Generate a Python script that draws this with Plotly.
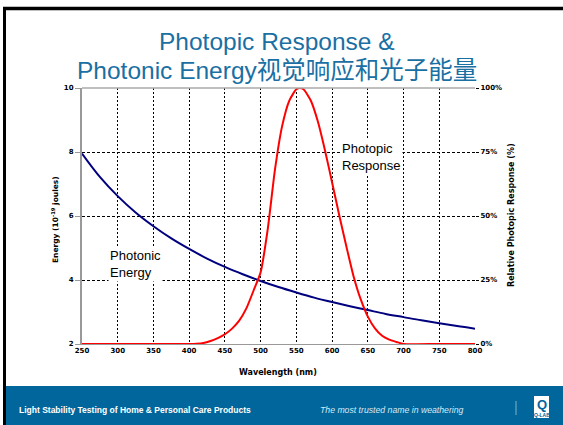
import plotly.graph_objects as go

# ---- data ----
energy_wl = [250, 275, 300, 325, 350, 375, 400, 425, 450, 475, 500, 525, 550, 575, 600, 625, 650, 675, 700, 725, 750, 775, 800]
energy_val = [7.95, 7.22, 6.62, 6.11, 5.68, 5.30, 4.97, 4.67, 4.41, 4.18, 3.97, 3.78, 3.61, 3.45, 3.31, 3.18, 3.06, 2.94, 2.84, 2.74, 2.65, 2.56, 2.48]

photopic_wl = [250, 300, 350, 400, 410, 420, 430, 440, 450, 460, 470, 480, 490, 500, 510, 520, 530, 540, 550, 555, 560, 570, 580, 590, 600, 610, 620, 630, 640, 650, 660, 670, 680, 690, 700, 750, 800]
photopic_pct = [0, 0, 0, 0, 0.1, 0.4, 1.2, 2.3, 3.8, 6.0, 9.1, 13.9, 20.8, 28.0, 45.0, 68.0, 85.0, 95.0, 99.5, 100, 99.5, 95.2, 87.0, 75.7, 63.1, 50.3, 38.1, 26.5, 17.5, 10.7, 6.1, 3.2, 1.7, 0.8, 0.0, 0, 0]

x_ticks = [250, 300, 350, 400, 450, 500, 550, 600, 650, 700, 750, 800]
y_ticks = [2, 4, 6, 8, 10]
y2_ticks = [0, 25, 50, 75, 100]
y2_labels = ["0%", "25%", "50%", "75%", "100%"]

W, H = 563, 425
L, R, T, B = 82, 475, 88, 344

def px(x):
    return (x - L) / (R - L)

def py(y):
    return (B - y) / (B - T)

tickfont = dict(family="DejaVu Sans", size=7, color="black", weight="bold")

fig = go.Figure()
fig.add_trace(go.Scatter(x=energy_wl, y=energy_val, mode="lines", line=dict(color="#00007F", width=2, shape="spline"),
                         yaxis="y", showlegend=False, hoverinfo="skip"))
fig.add_trace(go.Scatter(x=photopic_wl, y=photopic_pct, mode="lines", line=dict(color="#FF0000", width=2, shape="spline", smoothing=0.6),
                         yaxis="y2", showlegend=False, hoverinfo="skip"))

fig.update_layout(
    width=W, height=H,
    margin=dict(l=L, r=W - R, t=T, b=H - B, pad=0),
    paper_bgcolor="white", plot_bgcolor="white",
    xaxis=dict(range=[250, 800], tickvals=x_ticks, showgrid=True, gridcolor="black", griddash="2px,2px", gridwidth=1,
               showline=True, linecolor="#999999", linewidth=1, ticks="", tickfont=tickfont, zeroline=False,
               fixedrange=True),
    yaxis=dict(range=[2, 10], tickvals=y_ticks, showgrid=True, gridcolor="black", griddash="3px,2px", gridwidth=1,
               showline=True, linecolor="#999999", linewidth=2, ticks="outside", ticklen=5, tickcolor="#999999",
               tickfont=tickfont, zeroline=False),
    yaxis2=dict(range=[0, 100], tickvals=y2_ticks, ticktext=y2_labels, overlaying="y", side="right",
                showgrid=False, showline=False, ticks="outside", ticklen=3, tickcolor="black",
                tickfont=tickfont, zeroline=False),
)

shapes = []
# top solid gray line at 10
shapes.append(dict(type="line", xref="paper", yref="paper", x0=0, x1=1, y0=1, y1=1, line=dict(color="#AAAAAA", width=1.5)))
# slide borders
shapes.append(dict(type="line", xref="paper", yref="paper", x0=px(3), x1=px(563), y0=py(8.5), y1=py(8.5), line=dict(color="black", width=3.5)))
shapes.append(dict(type="line", xref="paper", yref="paper", x0=px(4.5), x1=px(4.5), y0=py(7), y1=py(425), line=dict(color="black", width=3)))
# footer band
shapes.append(dict(type="rect", xref="paper", yref="paper", x0=px(6), x1=px(563), y0=py(386), y1=py(425), fillcolor="#00669C", line=dict(width=0)))
# separator
shapes.append(dict(type="line", xref="paper", yref="paper", x0=px(516), x1=px(516), y0=py(401), y1=py(415), line=dict(color="#7FB3CE", width=1)))
# logo box
shapes.append(dict(type="rect", xref="paper", yref="paper", x0=px(534), x1=px(549), y0=py(396), y1=py(418), fillcolor="white", line=dict(width=0)))
fig.update_layout(shapes=shapes)

title_font = dict(family="Liberation Sans, Arial, Noto Sans CJK SC", size=24.5, color="#1A6FA3")
ann = []
ann.append(dict(text="Photopic Response &", x=px(277), y=py(41), xref="paper", yref="paper",
                showarrow=False, xanchor="center", yanchor="middle", font=title_font))
ann.append(dict(text="Photonic Energy视觉响应和光子能量", x=px(277), y=py(70), xref="paper", yref="paper",
                showarrow=False, xanchor="center", yanchor="middle", font=title_font))
ann.append(dict(text="Photopic<br>Response", x=px(340), y=py(157), xref="paper", yref="paper", showarrow=False,
                xanchor="left", yanchor="middle", align="left", bgcolor="white", borderpad=1,
                font=dict(family="Liberation Sans, Arial", size=13, color="black")))
ann.append(dict(text="Photonic<br>Energy", x=px(108), y=py(264), xref="paper", yref="paper", showarrow=False,
                xanchor="left", yanchor="middle", align="left", bgcolor="white", borderpad=1,
                font=dict(family="Liberation Sans, Arial", size=13, color="black")))
ann.append(dict(text="Energy (10<sup>-19</sup> joules)", x=px(55), y=py(220), xref="paper", yref="paper", showarrow=False,
                textangle=-90, xanchor="center", yanchor="middle",
                font=dict(family="DejaVu Sans", size=7.5, color="black", weight="bold")))
ann.append(dict(text="Relative Photopic Response (%)", x=px(511), y=py(215), xref="paper", yref="paper", showarrow=False,
                textangle=-90, xanchor="center", yanchor="middle",
                font=dict(family="DejaVu Sans", size=8, color="black", weight="bold")))
ann.append(dict(text="Wavelength (nm)", x=px(278), y=py(372), xref="paper", yref="paper", showarrow=False,
                xanchor="center", yanchor="middle",
                font=dict(family="DejaVu Sans", size=8, color="black", weight="bold")))
ann.append(dict(text="Light Stability Testing of Home & Personal Care Products", x=px(17), y=py(410), xref="paper", yref="paper",
                showarrow=False, xanchor="left", yanchor="middle",
                font=dict(family="Liberation Sans, Arial", size=8.5, color="white", weight="bold")))
ann.append(dict(text="<i>The most trusted name in weathering</i>", x=px(466), y=py(410), xref="paper", yref="paper",
                showarrow=False, xanchor="right", yanchor="middle",
                font=dict(family="Liberation Sans, Arial", size=8.7, color="#D8E8F2")))
ann.append(dict(text="<b>Q</b>", x=px(541.5), y=py(404), xref="paper", yref="paper", showarrow=False,
                xanchor="center", yanchor="middle", font=dict(family="Liberation Sans, Arial", size=13, color="#00669C")))
ann.append(dict(text="<b>Q-LAB</b>", x=px(541.5), y=py(415), xref="paper", yref="paper", showarrow=False,
                xanchor="center", yanchor="middle", font=dict(family="Liberation Sans, Arial", size=5, color="#00669C")))
fig.update_layout(annotations=ann)

fig.write_html("out.html", config={"displayModeBar": False}, post_script="document.body.style.margin='0';")
